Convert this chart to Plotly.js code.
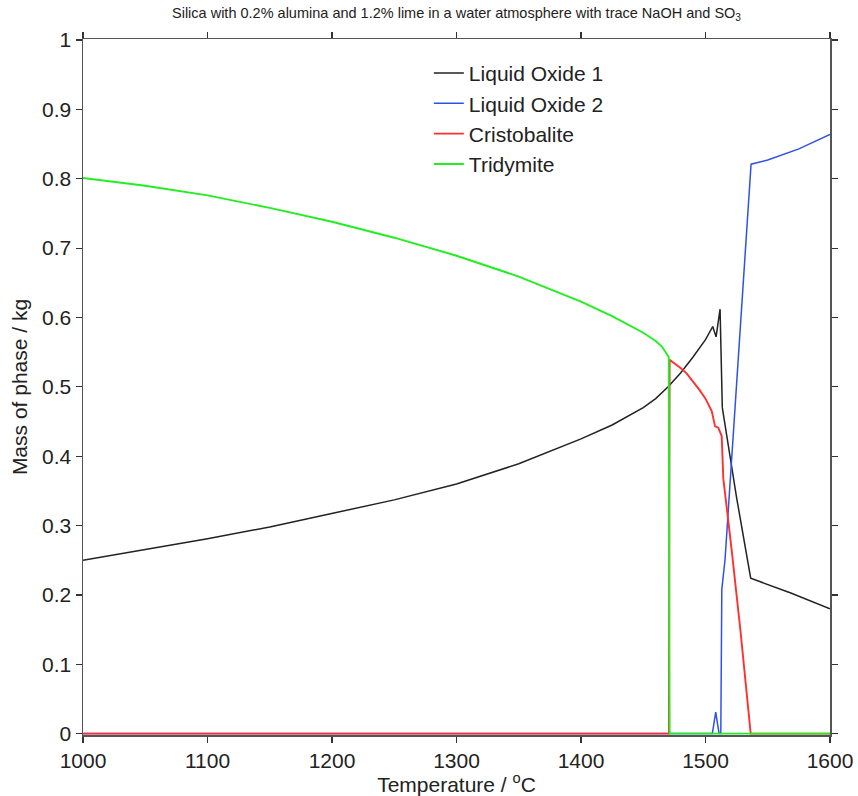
<!DOCTYPE html>
<html><head><meta charset="utf-8">
<script src="https://cdn.plot.ly/plotly-3.0.1.min.js"></script>
<style>html,body{margin:0;padding:0;background:#fff}#chart{width:858px;height:796px}</style>
</head><body><div id="chart"></div>
<script>
const liq1T = [1000,1050,1100,1150,1200,1250,1300,1350,1400,1425,1450,1460,1470,1480,1490,1500,1505.8,1508.5,1511.7,1513.5,1525,1536.3,1568,1600];
const liq1M = [0.250,0.265,0.281,0.298,0.317,0.337,0.360,0.389,0.425,0.445,0.470,0.483,0.500,0.520,0.543,0.568,0.587,0.572,0.612,0.470,0.340,0.224,0.203,0.180];

const liq2T = [1000,1505.5,1508.2,1510.9,1512.3,1513.1,1515.7,1525,1532.3,1536.6,1550,1575,1600];
const liq2M = [0,0,0.031,0,0,0.208,0.251,0.510,0.700,0.821,0.827,0.843,0.864];

const cristT = [1000,1470.6,1471.2,1475,1480,1485,1490,1495,1500,1505,1507.7,1510.3,1513,1514.3,1521,1528,1536.3,1600];
const cristM = [0,0,0.539,0.534,0.527,0.519,0.508,0.496,0.483,0.465,0.443,0.441,0.429,0.368,0.265,0.150,0,0];

const tridT = [1000,1050,1100,1150,1200,1250,1300,1350,1400,1425,1450,1460,1465,1470.5,1471.2,1600];
const tridM = [0.801,0.790,0.776,0.758,0.738,0.715,0.689,0.659,0.623,0.602,0.578,0.566,0.558,0.543,0,0];

const names = ['Liquid Oxide 1','Liquid Oxide 2','Cristobalite','Tridymite'];
const colors = ['#222222','#2f52e6','#ff3030','#22ee22'];
const widths = [1.5, 1.5, 1.9, 1.9];
const xs = [liq1T, liq2T, cristT, tridT];
const ys = [liq1M, liq2M, cristM, tridM];

const traces = names.map((n,i)=>({
  x: xs[i], y: ys[i], name: n, type:'scatter', mode:'lines',
  line:{color:colors[i], width:widths[i]}
}));

const axisCommon = {
  showline:true, linecolor:'#555', linewidth:1.5, mirror:'allticks',
  ticks:'outside', ticklen:6, tickwidth:1.2, tickcolor:'#333',
  showgrid:false, zeroline:false, layer:'below traces',
  tickfont:{family:'Liberation Sans, Arial, sans-serif', size:21, color:'#222'}
};

const layout = {
  width:858, height:796,
  margin:{l:83, r:28, t:39, b:61},
  paper_bgcolor:'#fff', plot_bgcolor:'#fff',
  font:{family:'Liberation Sans, Arial, sans-serif', color:'#222'},
  title:{text:'Silica with 0.2% alumina and 1.2% lime in a water atmosphere with trace NaOH and SO<sub>3</sub>',
    font:{size:14.5, color:'#222'}, xref:'paper', x:0.5, xanchor:'center', y:0.99, yanchor:'top'},
  xaxis:Object.assign({}, axisCommon, {range:[1000,1600], dtick:100, tick0:1000,
    title:{text:'Temperature / <sup>o</sup>C', font:{size:21}, standoff:2}}),
  yaxis:Object.assign({}, axisCommon, {range:[-0.002,1.0015], tickvals:[0,0.1,0.2,0.3,0.4,0.5,0.6,0.7,0.8,0.9,1],
    ticktext:['0','0.1','0.2','0.3','0.4','0.5','0.6','0.7','0.8','0.9','1'],
    title:{text:'Mass of phase / kg', font:{size:21}, standoff:8}}),
  legend:{x:0.463, y:0.98, xanchor:'left', yanchor:'top', bgcolor:'rgba(0,0,0,0)',
    font:{size:21, color:'#222'}, tracegroupgap:0, itemwidth:30}
};

Plotly.newPlot('chart', traces, layout, {displayModeBar:false, staticPlot:true});
</script></body></html>
